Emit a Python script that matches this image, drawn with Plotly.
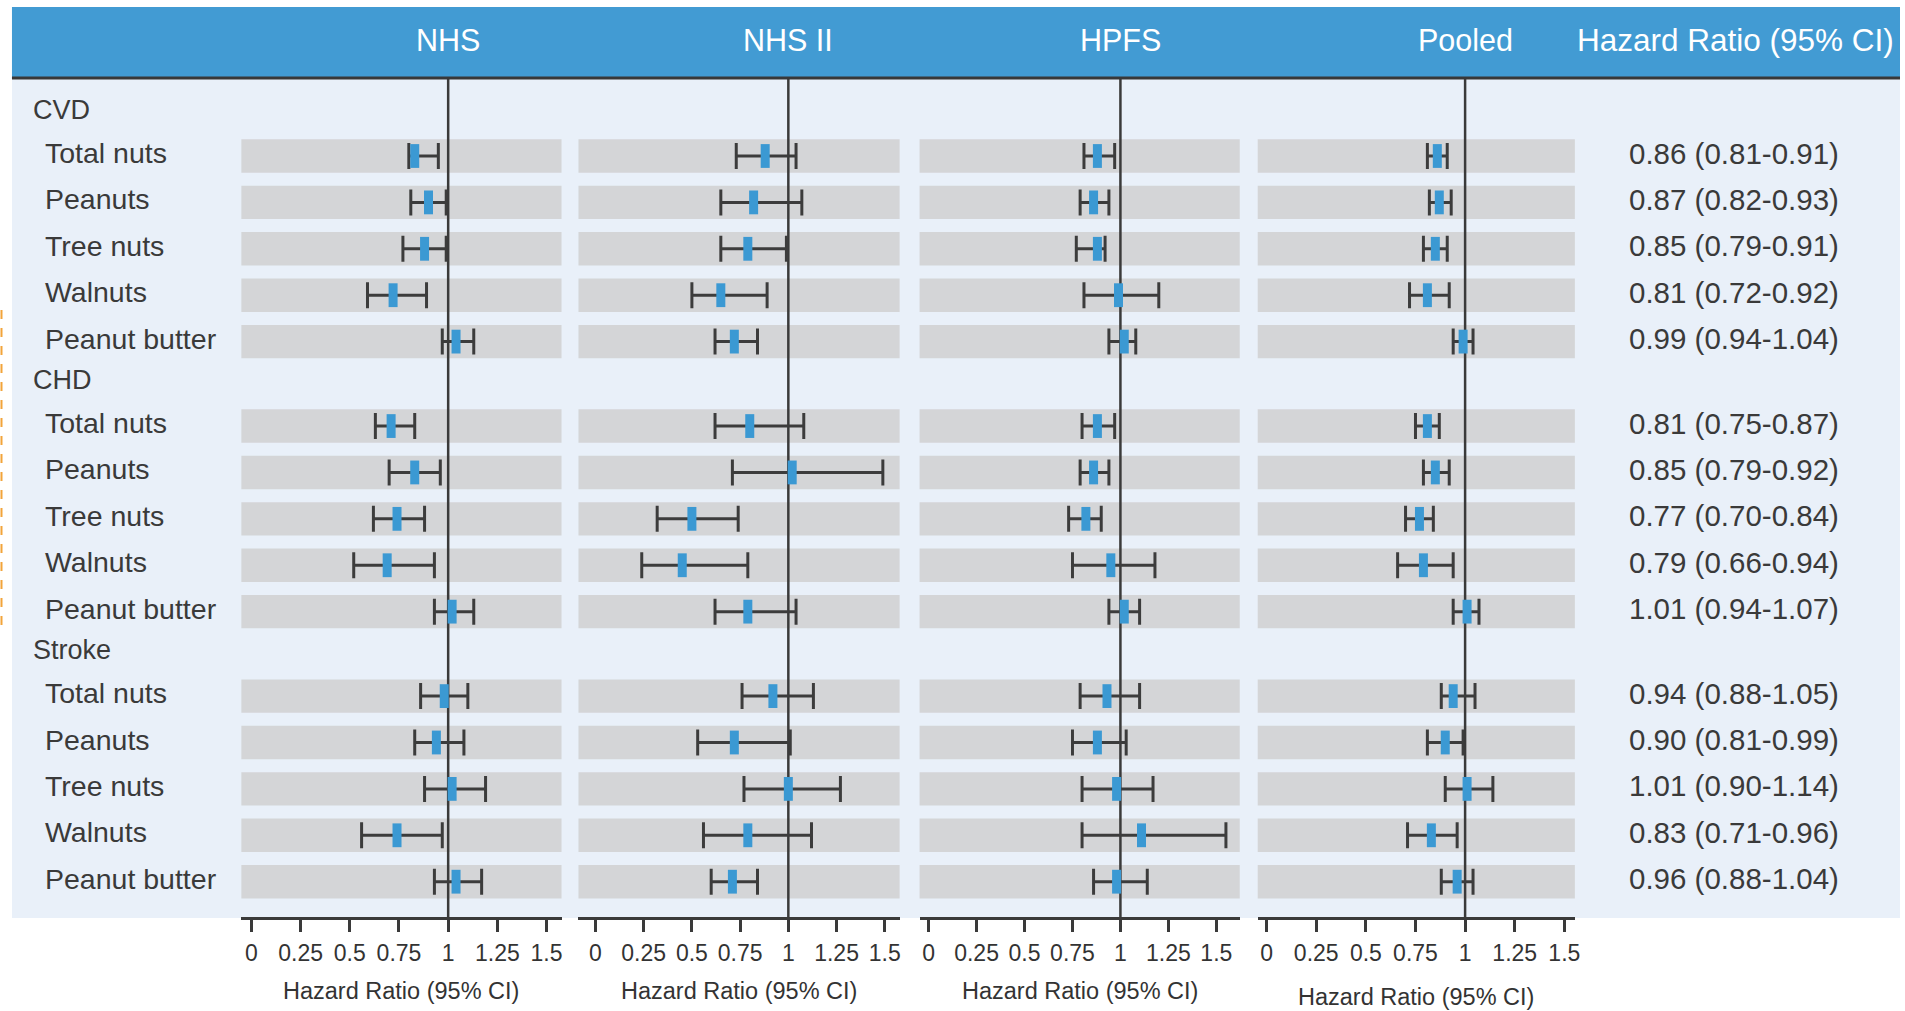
import plotly.graph_objects as go

W, H = 1905, 1011

# ---------------- data ----------------
groups = ["CVD", "CHD", "Stroke"]
items = ["Total nuts", "Peanuts", "Tree nuts", "Walnuts", "Peanut butter"]
studies = ["NHS", "NHS II", "HPFS", "Pooled"]

# order: CVD (5 items), CHD (5 items), Stroke (5 items)
nhs_hr = [0.83, 0.90, 0.88, 0.72, 1.04, 0.71, 0.83, 0.74, 0.69, 1.02, 0.98, 0.94, 1.02, 0.74, 1.04]
nhs_lo = [0.80, 0.81, 0.77, 0.59, 0.97, 0.63, 0.70, 0.62, 0.52, 0.93, 0.86, 0.83, 0.88, 0.56, 0.93]
nhs_hi = [0.95, 0.99, 0.99, 0.89, 1.13, 0.83, 0.96, 0.88, 0.93, 1.13, 1.10, 1.08, 1.19, 0.97, 1.17]

nhs2_hr = [0.88, 0.82, 0.79, 0.65, 0.72, 0.80, 1.02, 0.50, 0.45, 0.79, 0.92, 0.72, 1.00, 0.79, 0.71]
nhs2_lo = [0.73, 0.65, 0.65, 0.50, 0.62, 0.62, 0.71, 0.32, 0.24, 0.62, 0.76, 0.53, 0.77, 0.56, 0.60]
nhs2_hi = [1.04, 1.07, 0.99, 0.89, 0.84, 1.08, 1.49, 0.74, 0.79, 1.04, 1.13, 1.01, 1.27, 1.12, 0.84]

hpfs_hr = [0.88, 0.86, 0.88, 0.99, 1.02, 0.88, 0.86, 0.82, 0.95, 1.02, 0.93, 0.88, 0.98, 1.11, 0.98]
hpfs_lo = [0.81, 0.79, 0.77, 0.81, 0.94, 0.80, 0.79, 0.73, 0.75, 0.94, 0.79, 0.75, 0.80, 0.80, 0.86]
hpfs_hi = [0.97, 0.94, 0.92, 1.20, 1.08, 0.97, 0.94, 0.90, 1.18, 1.10, 1.10, 1.03, 1.17, 1.55, 1.14]

pooled_hr = [0.86, 0.87, 0.85, 0.81, 0.99, 0.81, 0.85, 0.77, 0.79, 1.01, 0.94, 0.90, 1.01, 0.83, 0.96]
pooled_lo = [0.81, 0.82, 0.79, 0.72, 0.94, 0.75, 0.79, 0.70, 0.66, 0.94, 0.88, 0.81, 0.90, 0.71, 0.88]
pooled_hi = [0.91, 0.93, 0.91, 0.92, 1.04, 0.87, 0.92, 0.84, 0.94, 1.07, 1.05, 0.99, 1.14, 0.96, 1.04]

tick_vals = [0, 0.25, 0.5, 0.75, 1, 1.25, 1.5]
tick_text = ["0", "0.25", "0.5", "0.75", "1", "1.25", "1.5"]

# ---------------- layout helpers ----------------
def px(x):
    return x / W

def py(y):
    return 1 - y / H

FONT = "Liberation Sans"
TXT = "#3a3a3a"
BLUE_HDR = "#429bd3"
BG = "#e9f0f9"
STRIP = "#d4d5d7"
MARK = "#3b99d3"
DARK = "#3c3c3c"

series = [
    (nhs_hr, nhs_lo, nhs_hi),
    (nhs2_hr, nhs2_lo, nhs2_hi),
    (hpfs_hr, hpfs_lo, hpfs_hi),
    (pooled_hr, pooled_lo, pooled_hi),
]
panel_px = [(242, 563), (580, 902), (922, 1243), (1261, 1579)]
panel_range = [(-0.051, 1.576), (-0.088, 1.577), (-0.047, 1.622), (-0.045, 1.553)]

# vertical row positions (in row units), groups separated by a header slot
GROUP_STEP = 5.82
row_y = []
row_label = []
for g in range(len(groups)):
    for i in range(len(items)):
        row_y.append(i + g * GROUP_STEP)
        row_label.append(items[i])
header_y = [g * GROUP_STEP - 0.99 for g in range(len(groups))]

top_px, axis_px = 78, 917
first_row_px, row_px = 156, 46.4
y_top = (top_px - first_row_px) / row_px
y_bot = (axis_px - first_row_px) / row_px

fig = go.Figure()
shapes = []
annotations = []

# background / header
shapes.append(dict(type="rect", xref="paper", yref="paper", x0=px(12), x1=1, y0=py(918), y1=py(78),
                   fillcolor=BG, line_width=0, layer="below"))
shapes.append(dict(type="rect", xref="paper", yref="paper", x0=px(12), x1=1, y0=py(78), y1=py(7),
                   fillcolor=BLUE_HDR, line_width=0, layer="below"))
shapes.append(dict(type="line", xref="paper", yref="paper", x0=px(12), x1=1, y0=py(78), y1=py(78),
                   line=dict(color="#383838", width=3)))
shapes.append(dict(type="line", xref="paper", yref="paper", x0=px(1.5), x1=px(1.5), y0=py(310), y1=py(628),
                   line=dict(color="#f2a43a", width=2, dash="dash")))

for k, (hr, lo, hi) in enumerate(series):
    xname = "x" if k == 0 else f"x{k+1}"
    axname = "xaxis" if k == 0 else f"xaxis{k+1}"
    fig.add_trace(go.Scatter(
        x=hr, y=row_y, mode="markers", xaxis=xname, yaxis="y",
        marker=dict(symbol="line-ns", size=17, color=MARK, line=dict(color=MARK, width=9)),
        error_x=dict(type="data", symmetric=False,
                     array=[h - v for h, v in zip(hi, hr)],
                     arrayminus=[v - l for v, l in zip(hr, lo)],
                     color=DARK, thickness=3, width=13),
        showlegend=False, hoverinfo="skip", cliponaxis=False,
    ))
    fig.layout[axname] = dict(
        domain=[px(panel_px[k][0]), px(panel_px[k][1])], range=list(panel_range[k]),
        anchor="y", showgrid=False, zeroline=False, showline=True, linecolor="#3a3a3a", linewidth=3,
        ticks="outside", ticklen=12, tickwidth=3, tickcolor="#3a3a3a",
        tickvals=tick_vals, ticktext=tick_text, ticklabelstandoff=1,
        tickfont=dict(family=FONT, size=23, color="#333333"),
    )
    for yy in row_y:
        shapes.append(dict(type="rect", xref=f"{xname} domain", yref="y", x0=0, x1=1,
                           y0=yy - 0.36, y1=yy + 0.36, fillcolor=STRIP, line_width=0, layer="below"))
    shapes.append(dict(type="line", xref=xname, yref="y domain", x0=1, x1=1, y0=0, y1=1,
                       line=dict(color="#3a3a3a", width=2.5), layer="below"))
    annotations.append(dict(xref=xname, yref="paper", x=1, y=py(40), text=studies[k], showarrow=False,
                            xanchor="center", yanchor="middle",
                            font=dict(family=FONT, size=30.5, color="white")))
    annotations.append(dict(xref=f"{xname} domain", yref="paper", x=0.5,
                            y=py(997 if k == 3 else 991), text="Hazard Ratio (95% CI)",
                            showarrow=False, xanchor="center", yanchor="middle",
                            font=dict(family=FONT, size=23.5, color="#333333")))

annotations.append(dict(xref="paper", yref="paper", x=px(1740), y=py(40), text="Hazard Ratio (95% CI)",
                        showarrow=False, xanchor="center", yanchor="middle",
                        font=dict(family=FONT, size=31.5, color="white")))

for g, yy in enumerate(header_y):
    annotations.append(dict(xref="paper", yref="y", x=px(31), y=yy, text=groups[g], showarrow=False,
                            xanchor="left", yanchor="middle", font=dict(family=FONT, size=27, color=TXT)))
for lab, yy in zip(row_label, row_y):
    annotations.append(dict(xref="paper", yref="y", x=px(43), y=yy, text=lab, showarrow=False,
                            xanchor="left", yanchor="middle", yshift=3,
                            font=dict(family=FONT, size=28.5, color=TXT)))
for v, l, h, yy in zip(pooled_hr, pooled_lo, pooled_hi, row_y):
    annotations.append(dict(xref="paper", yref="y", x=px(1631), y=yy,
                            text=f"{v:.2f} ({l:.2f}-{h:.2f})", showarrow=False,
                            xanchor="left", yanchor="middle", yshift=3,
                            font=dict(family=FONT, size=29.5, color=TXT)))

fig.update_layout(
    width=W, height=H, margin=dict(l=0, r=0, t=0, b=0),
    paper_bgcolor="white", plot_bgcolor="rgba(0,0,0,0)",
    yaxis=dict(domain=[py(axis_px), py(top_px)], range=[y_bot, y_top], visible=False,
               showgrid=False, zeroline=False),
    shapes=shapes, annotations=annotations,
)

fig.write_html("out.html", config={"displayModeBar": False},
               post_script="document.body.style.margin='0';document.body.style.overflow='hidden';")
